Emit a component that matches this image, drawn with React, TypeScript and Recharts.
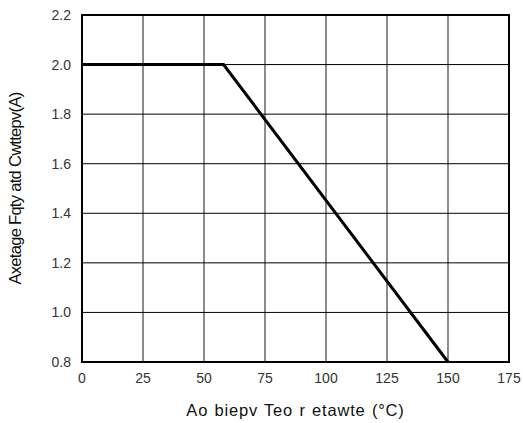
import { LineChart, Line, XAxis, YAxis, CartesianGrid, ReferenceArea } from "recharts";

const temps = [0, 58, 150];
const current = [2.0, 2.0, 0.8];
const xTicks = [0, 25, 50, 75, 100, 125, 150, 175];
const yTicks = [0.8, 1.0, 1.2, 1.4, 1.6, 1.8, 2.0, 2.2];

const data = temps.map((t, i) => ({ t, a: current[i] }));

const font = "'Liberation Sans', Arial, sans-serif";

export default function App() {
  return (
    <>
      <style>{`html, body { margin: 0; padding: 0; overflow: hidden; }`}</style>
      <LineChart width={523} height={423} data={data} margin={{ top: 15, right: 14, bottom: 0, left: 0 }}>
        <CartesianGrid horizontal={false} stroke="#666" strokeWidth={1.5} />
        <CartesianGrid vertical={false} stroke="#000" strokeWidth={1} />
        <XAxis
          dataKey="t"
          type="number"
          domain={[0, 175]}
          ticks={xTicks}
          axisLine={false}
          tickLine={false}
          tickSize={0}
          tickMargin={11}
          height={61}
          tick={{ fill: "#333", fontSize: 14, fontFamily: font }}
          label={{ value: "Ao biepv Teo r etawte (°C)", position: "insideBottom", offset: 7, fill: "#111", fontSize: 16.5, fontFamily: font, style: { letterSpacing: "0.8px", wordSpacing: "1px" } }}
        />
        <YAxis
          type="number"
          domain={[0.8, 2.2]}
          ticks={yTicks}
          tickFormatter={(v: number) => v.toFixed(1)}
          axisLine={false}
          tickLine={false}
          tickSize={0}
          tickMargin={11}
          width={82}
          tick={{ fill: "#333", fontSize: 14, fontFamily: font }}
          label={{ value: "Axetage Fqty atd Cwttepv(A)", angle: -90, position: "insideLeft", offset: 15, fill: "#111", fontSize: 16.5, fontFamily: font, style: { textAnchor: "middle", letterSpacing: "-0.7px" } }}
        />
        <ReferenceArea x1={0} x2={175} y1={0.8} y2={2.2} fill="none" stroke="#000" strokeWidth={2} ifOverflow="visible" />
        <Line type="linear" dataKey="a" stroke="#000" strokeWidth={3} dot={false} isAnimationActive={false} />
      </LineChart>
    </>
  );
}
